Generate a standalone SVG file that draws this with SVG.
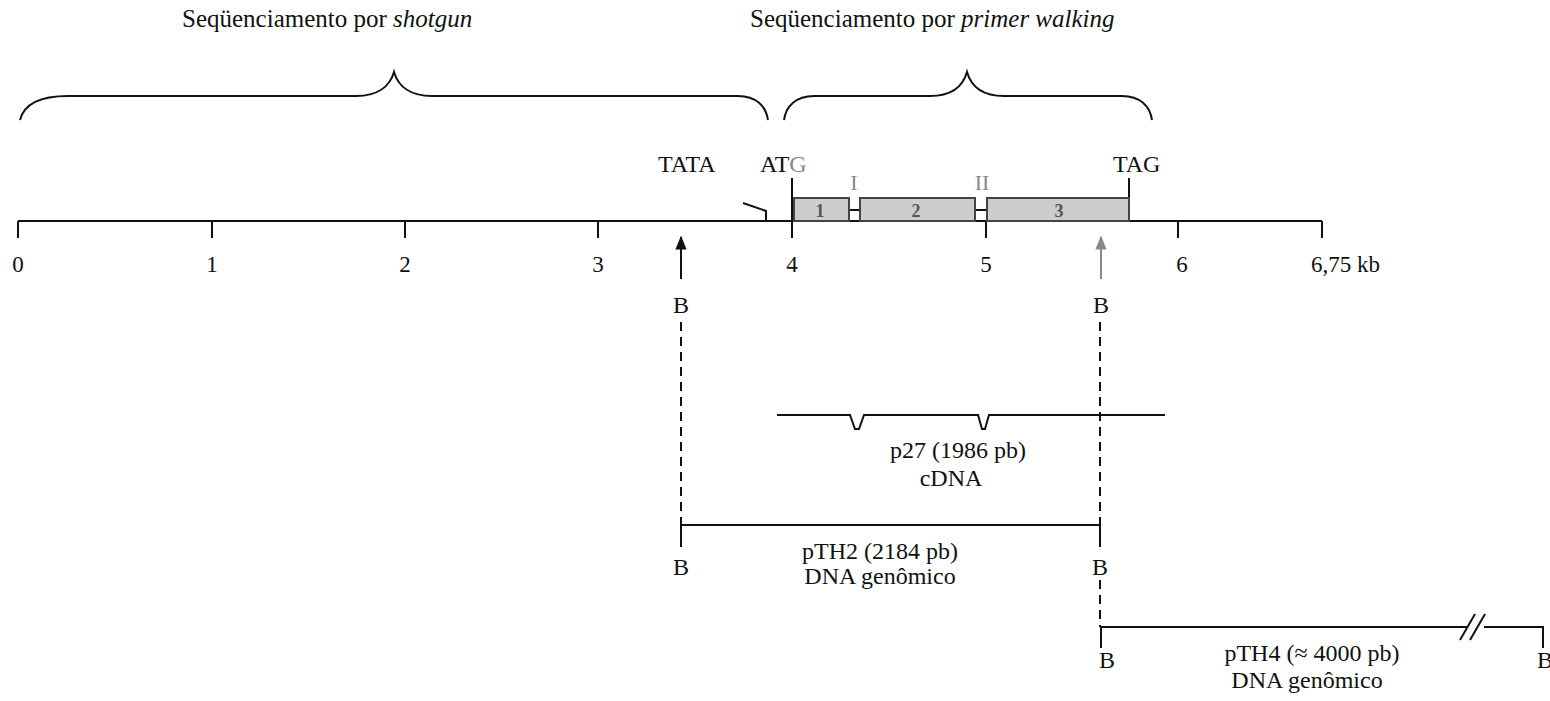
<svg xmlns="http://www.w3.org/2000/svg" width="1550" height="701" viewBox="0 0 1550 701">
<style>
.t{font-family:"Liberation Serif","Times New Roman",serif;fill:#111}
.title{font-size:25px}
.lab{font-size:24px}
.num{font-size:23px;text-anchor:middle}
.c{text-anchor:middle}
.ln{stroke:#111;stroke-width:2;fill:none}
.dash{stroke:#111;stroke-width:2;stroke-dasharray:9,6;fill:none}
.exon{fill:#cdcdcd;stroke:#444;stroke-width:2}
.enum{font-family:"Liberation Serif",serif;font-size:18px;font-weight:bold;fill:#555;text-anchor:middle}
.gray{fill:#888}
</style>
<defs>
<marker id="ahk" viewBox="0 0 10 10" refX="9" refY="5" markerWidth="7" markerHeight="7" orient="auto"><path d="M0,1 L10,5 L0,9 z" fill="#111"/></marker>
<marker id="ahg" viewBox="0 0 10 10" refX="9" refY="5" markerWidth="7" markerHeight="7" orient="auto"><path d="M0,1 L10,5 L0,9 z" fill="#888"/></marker>
</defs>

<g id="titles">
<text class="t title" x="182" y="27">Seqüenciamento por <tspan font-style="italic">shotgun</tspan></text>
<text class="t title" x="750" y="27">Seqüenciamento por <tspan font-style="italic">primer walking</tspan></text>
</g>

<g id="braces">
<path class="ln" d="M20,120 C24,104 40,96 68,96 L356,96 C378,96 390,86 394,72 C398,86 410,96 432,96 L738,96 C756,96 766,106 768,120"/>
<path class="ln" d="M784,120 C786,106 796,96 814,96 L930,96 C952,96 963,86 967,72 C971,86 982,96 1004,96 L1122,96 C1140,96 1150,106 1152,120"/>
</g>

<g id="map">
<line class="ln" x1="18" y1="221" x2="1322" y2="221"/>
<g class="ln">
<line x1="18" y1="221" x2="18" y2="238"/>
<line x1="212" y1="221" x2="212" y2="238"/>
<line x1="405" y1="221" x2="405" y2="238"/>
<line x1="598" y1="221" x2="598" y2="238"/>
<line x1="792" y1="178" x2="792" y2="238"/>
<line x1="986" y1="221" x2="986" y2="238"/>
<line x1="1178" y1="221" x2="1178" y2="238"/>
<line x1="1322" y1="221" x2="1322" y2="238"/>
<line x1="1129" y1="178" x2="1129" y2="221"/>
</g>
<polyline class="ln" points="743,203 766,211 766,222"/>
<line class="ln" x1="849" y1="210" x2="860" y2="210"/>
<line class="ln" x1="975" y1="210" x2="987" y2="210"/>
<rect class="exon" x="794" y="198" width="55" height="23"/>
<rect class="exon" x="860" y="198" width="115" height="23"/>
<rect class="exon" x="987" y="198" width="142" height="23"/>
<text class="enum" x="820" y="217">1</text>
<text class="enum" x="916" y="217">2</text>
<text class="enum" x="1059" y="217">3</text>
<text class="t c gray" x="854" y="190" font-size="22">I</text>
<text class="t c gray" x="982" y="190" font-size="22">II</text>
<text class="t lab" x="658" y="172">TATA</text>
<text class="t lab" x="760" y="172">AT<tspan class="gray">G</tspan></text>
<text class="t lab" x="1113" y="172">TAG</text>
<text class="t num" x="18" y="272">0</text>
<text class="t num" x="212" y="272">1</text>
<text class="t num" x="405" y="272">2</text>
<text class="t num" x="598" y="272">3</text>
<text class="t num" x="792" y="272">4</text>
<text class="t num" x="986" y="272">5</text>
<text class="t num" x="1182" y="272">6</text>
<text class="t" font-size="23" x="1311" y="272">6,75 kb</text>
</g>

<g id="sites">
<line x1="681" y1="279" x2="681" y2="237" stroke="#111" stroke-width="2" marker-end="url(#ahk)"/>
<line x1="1101" y1="279" x2="1101" y2="237" stroke="#888" stroke-width="2" marker-end="url(#ahg)"/>
<text class="t lab c" x="681" y="313">B</text>
<text class="t lab c" x="1101" y="313">B</text>
</g>

<g id="connectors">
<line class="dash" x1="681" y1="322" x2="681" y2="525"/>
<line class="dash" x1="1100" y1="322" x2="1100" y2="525"/>
<line class="dash" x1="1100" y1="580" x2="1100" y2="627"/>
</g>

<g id="p27">
<path class="ln" d="M777,415 L850,415 L855,429 L859,429 L864,415 L978,415 L982,429 L985,429 L989,415 L1165,415"/>
<text class="t lab c" x="958" y="458">p27 (1986 pb)</text>
<text class="t lab c" x="951" y="486">cDNA</text>
</g>

<g id="pTH2">
<path class="ln" d="M681,547 L681,525 L1100,525 L1100,547"/>
<text class="t lab c" x="681" y="575">B</text>
<text class="t lab c" x="1100" y="575">B</text>
<text class="t lab c" x="880" y="559">pTH2 (2184 pb)</text>
<text class="t lab c" x="880" y="584">DNA genômico</text>
</g>

<g id="pTH4">
<path class="ln" d="M1101,648 L1101,627 L1468,627"/>
<path class="ln" d="M1484,627 L1543,627 L1543,648"/>
<line class="ln" x1="1460" y1="640" x2="1475" y2="614"/>
<line class="ln" x1="1470" y1="640" x2="1485" y2="614"/>
<text class="t lab c" x="1107" y="668">B</text>
<text class="t lab c" x="1545" y="668">B</text>
<text class="t lab c" x="1312" y="661">pTH4 (≈ 4000 pb)</text>
<text class="t lab c" x="1307" y="688">DNA genômico</text>
</g>
</svg>
